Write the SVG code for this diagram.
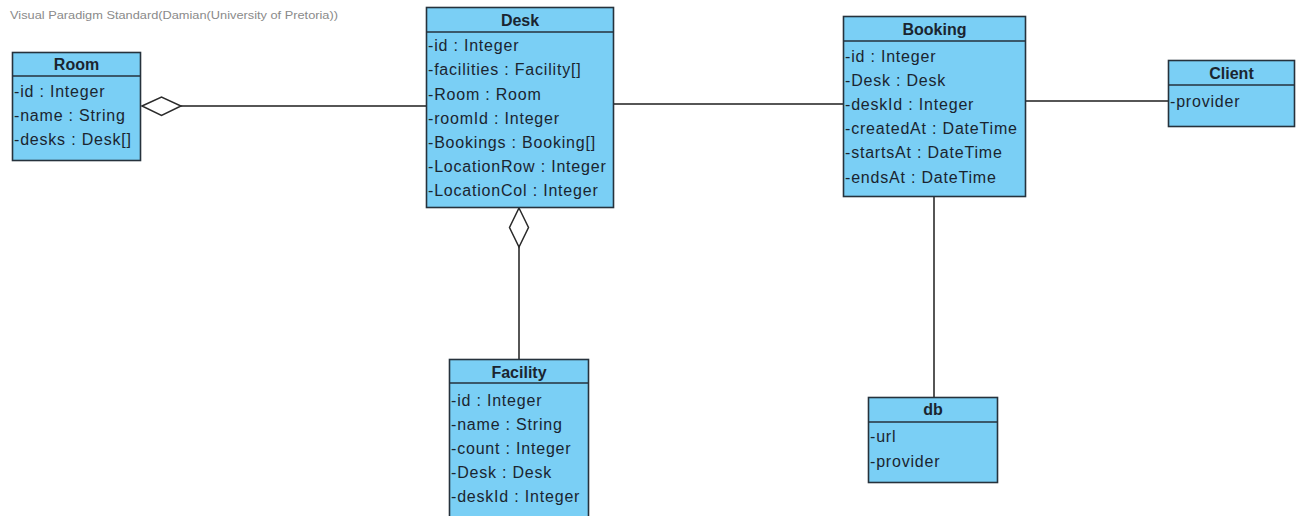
<svg xmlns="http://www.w3.org/2000/svg" width="1296" height="516" viewBox="0 0 1296 516">
<style>
.box{fill:#7acff5;stroke:#26323c;stroke-width:1.6}
.sep{stroke:#26323c;stroke-width:1.6}
.title{font-family:"Liberation Sans",Arial,sans-serif;font-weight:bold;font-size:16px;fill:#1a2530;text-anchor:middle}
.attr{font-family:"Liberation Sans",Arial,sans-serif;font-size:16px;letter-spacing:0.8px;fill:#1a2530}
.wm{font-family:"Liberation Sans",Arial,sans-serif;font-size:10.5px;fill:#8a8a8a}
.conn{stroke:#1e1e1e;stroke-width:1.5;fill:none}
.dia{fill:#ffffff;stroke:#2a2a2a;stroke-width:1.5}
</style>
<rect width="1296" height="516" fill="#ffffff"/>
<text class="wm" x="10" y="19" textLength="328" lengthAdjust="spacingAndGlyphs">Visual Paradigm Standard(Damian(University of Pretoria))</text>
<g id="connectors">
<line class="conn" x1="181" y1="106" x2="426" y2="106"/>
<polygon class="dia" points="142,106 161.5,97 181,106 161.5,115.5"/>
<line class="conn" x1="614" y1="104" x2="843" y2="104"/>
<line class="conn" x1="1026" y1="101" x2="1168" y2="101"/>
<line class="conn" x1="519" y1="247" x2="519" y2="359"/>
<polygon class="dia" points="519,208 528.5,227.5 519,247 509.5,227.5"/>
<line class="conn" x1="934" y1="197" x2="934" y2="397"/>
</g>
<g id="Room">
<rect class="box" x="12.5" y="52.5" width="128" height="108"/>
<line class="sep" x1="12.5" y1="76" x2="140.5" y2="76"/>
<text class="title" x="76.5" y="70">Room</text>
<text class="attr" x="14" y="97">-id : Integer</text>
<text class="attr" x="14" y="121">-name : String</text>
<text class="attr" x="14" y="145">-desks : Desk[]</text>
</g>
<g id="Desk">
<rect class="box" x="426.5" y="7.5" width="187" height="200"/>
<line class="sep" x1="426.5" y1="32" x2="613.5" y2="32"/>
<text class="title" x="520" y="26">Desk</text>
<text class="attr" x="428" y="51">-id : Integer</text>
<text class="attr" x="428" y="75">-facilities : Facility[]</text>
<text class="attr" x="428" y="100">-Room : Room</text>
<text class="attr" x="428" y="124">-roomId : Integer</text>
<text class="attr" x="428" y="148">-Bookings : Booking[]</text>
<text class="attr" x="428" y="172">-LocationRow : Integer</text>
<text class="attr" x="428" y="196">-LocationCol : Integer</text>
</g>
<g id="Booking">
<rect class="box" x="843.5" y="16.5" width="182" height="180"/>
<line class="sep" x1="843.5" y1="41" x2="1025.5" y2="41"/>
<text class="title" x="934.5" y="35">Booking</text>
<text class="attr" x="845" y="62">-id : Integer</text>
<text class="attr" x="845" y="86">-Desk : Desk</text>
<text class="attr" x="845" y="110">-deskId : Integer</text>
<text class="attr" x="845" y="134">-createdAt : DateTime</text>
<text class="attr" x="845" y="158">-startsAt : DateTime</text>
<text class="attr" x="845" y="183">-endsAt : DateTime</text>
</g>
<g id="Client">
<rect class="box" x="1168.5" y="60.5" width="126" height="66"/>
<line class="sep" x1="1168.5" y1="85" x2="1294.5" y2="85"/>
<text class="title" x="1231.5" y="79">Client</text>
<text class="attr" x="1170" y="107">-provider</text>
</g>
<g id="Facility">
<rect class="box" x="449.5" y="359.5" width="139" height="170"/>
<line class="sep" x1="449.5" y1="383" x2="588.5" y2="383"/>
<text class="title" x="519" y="378">Facility</text>
<text class="attr" x="451" y="406">-id : Integer</text>
<text class="attr" x="451" y="430">-name : String</text>
<text class="attr" x="451" y="454">-count : Integer</text>
<text class="attr" x="451" y="478">-Desk : Desk</text>
<text class="attr" x="451" y="502">-deskId : Integer</text>
</g>
<g id="db">
<rect class="box" x="868.5" y="397.5" width="129" height="85"/>
<line class="sep" x1="868.5" y1="422" x2="997.5" y2="422"/>
<text class="title" x="933" y="415">db</text>
<text class="attr" x="870" y="442">-url</text>
<text class="attr" x="870" y="467">-provider</text>
</g>
</svg>
